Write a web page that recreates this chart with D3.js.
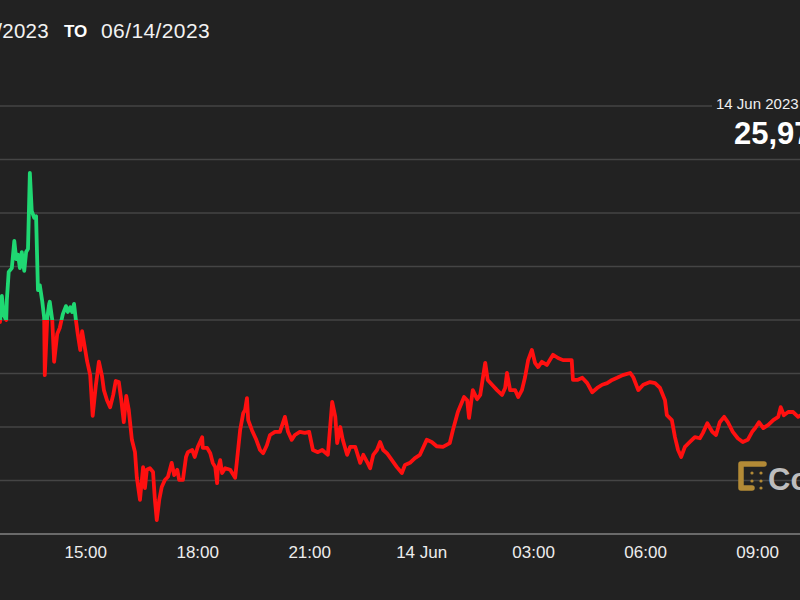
<!DOCTYPE html>
<html>
<head>
<meta charset="utf-8">
<script src="https://cdn.jsdelivr.net/npm/d3@7/dist/d3.min.js"></script>
<style>
  html, body { margin: 0; padding: 0; background: #222222; overflow: hidden; }
  svg { display: block; }
  text { font-family: "Liberation Sans", Arial, Helvetica, sans-serif; }
</style>
</head>
<body>
<svg id="chart" width="800" height="600"></svg>
<script>
// ---- data (BTC price, 13–14 Jun 2023) ----
const times = [
"06-13 12:43","06-13 12:46","06-13 12:49","06-13 12:53","06-13 12:54","06-13 12:57","06-13 13:02","06-13 13:06","06-13 13:09","06-13 13:12",
"06-13 13:15","06-13 13:18","06-13 13:22","06-13 13:25","06-13 13:28","06-13 13:31","06-13 13:34","06-13 13:38","06-13 13:41","06-13 13:44",
"06-13 13:47","06-13 13:51","06-13 13:54","06-13 13:55","06-13 13:59","06-13 14:02","06-13 14:03","06-13 14:07","06-13 14:10","06-13 14:15",
"06-13 14:19","06-13 14:24","06-13 14:29","06-13 14:32","06-13 14:36","06-13 14:39","06-13 14:42","06-13 14:45","06-13 14:48","06-13 14:52",
"06-13 14:55","06-13 15:00","06-13 15:03","06-13 15:08","06-13 15:12","06-13 15:17","06-13 15:22","06-13 15:27","06-13 15:30","06-13 15:35",
"06-13 15:40","06-13 15:45","06-13 15:49","06-13 15:54","06-13 15:58","06-13 16:02","06-13 16:06","06-13 16:10","06-13 16:15","06-13 16:20",
"06-13 16:23","06-13 16:28","06-13 16:33","06-13 16:36","06-13 16:39","06-13 16:44","06-13 16:49","06-13 16:52","06-13 16:55","06-13 16:59",
"06-13 17:03","06-13 17:08","06-13 17:13","06-13 17:19","06-13 17:23","06-13 17:28","06-13 17:31","06-13 17:37","06-13 17:42","06-13 17:45",
"06-13 17:52","06-13 17:56","06-13 18:01","06-13 18:08","06-13 18:09","06-13 18:16","06-13 18:21","06-13 18:25","06-13 18:29","06-13 18:32",
"06-13 18:33","06-13 18:37","06-13 18:40","06-13 18:45","06-13 18:53","06-13 19:01","06-13 19:04","06-13 19:09","06-13 19:14","06-13 19:17",
"06-13 19:20","06-13 19:22","06-13 19:28","06-13 19:35","06-13 19:41","06-13 19:46","06-13 19:52","06-13 19:57","06-13 20:05","06-13 20:13",
"06-13 20:21","06-13 20:26","06-13 20:32","06-13 20:37","06-13 20:45","06-13 20:53","06-13 21:00","06-13 21:06","06-13 21:14","06-13 21:21",
"06-13 21:30","06-13 21:37","06-13 21:42","06-13 21:45","06-13 21:50","06-13 21:54","06-13 22:01","06-13 22:06","06-13 22:14","06-13 22:22",
"06-13 22:27","06-13 22:33","06-13 22:38","06-13 22:43","06-13 22:49","06-13 22:54","06-13 22:59","06-13 23:05","06-13 23:15","06-13 23:21",
"06-13 23:29","06-13 23:34","06-13 23:42","06-13 23:50","06-13 23:58","06-14 00:09","06-14 00:17","06-14 00:25","06-14 00:35","06-14 00:46",
"06-14 00:51","06-14 00:59","06-14 01:09","06-14 01:14","06-14 01:17","06-14 01:23","06-14 01:30","06-14 01:35","06-14 01:43","06-14 01:47",
"06-14 01:54","06-14 02:02","06-14 02:10","06-14 02:15","06-14 02:18","06-14 02:23","06-14 02:31","06-14 02:36","06-14 02:42","06-14 02:47",
"06-14 02:52","06-14 02:58","06-14 03:03","06-14 03:08","06-14 03:14","06-14 03:22","06-14 03:32","06-14 03:40","06-14 03:48","06-14 03:56",
"06-14 04:02","06-14 04:04","06-14 04:11","06-14 04:19","06-14 04:27","06-14 04:35","06-14 04:43","06-14 04:51","06-14 04:59","06-14 05:07",
"06-14 05:15","06-14 05:24","06-14 05:36","06-14 05:41","06-14 05:49","06-14 05:57","06-14 06:08","06-14 06:16","06-14 06:24","06-14 06:32",
"06-14 06:35","06-14 06:43","06-14 06:48","06-14 06:53","06-14 06:58","06-14 07:04","06-14 07:12","06-14 07:20","06-14 07:28","06-14 07:33",
"06-14 07:40","06-14 07:48","06-14 07:54","06-14 08:00","06-14 08:07","06-14 08:13","06-14 08:21","06-14 08:29","06-14 08:37","06-14 08:45",
"06-14 08:52","06-14 08:57","06-14 09:03","06-14 09:10","06-14 09:18","06-14 09:26","06-14 09:34","06-14 09:38","06-14 09:43","06-14 09:50",
"06-14 09:58","06-14 10:06","06-14 10:09"
];
const prices = [
26096,26145,26109,26100,26137,26190,26197,26248,26214,26222,
26197,26227,26192,26227,26233,26375,26304,26291,26294,26156,
26165,26134,26104,25997,26104,26130,26134,26100,26022,26074,
26085,26111,26126,26115,26124,26115,26130,26100,26074,26044,
26079,26044,26023,25997,25921,25977,26022,25995,25969,25950,
25937,25960,25986,25984,25950,25909,25958,25932,25876,25853,
25805,25764,25825,25786,25820,25823,25816,25764,25726,25764,
25788,25801,25807,25833,25810,25820,25801,25801,25844,25853,
25857,25844,25863,25881,25861,25861,25851,25833,25825,25795,
25820,25838,25814,25823,25820,25805,25838,25894,25926,25932,
25954,25913,25894,25876,25857,25851,25866,25885,25891,25891,
25919,25891,25876,25885,25891,25889,25891,25857,25853,25857,
25848,25947,25919,25870,25900,25876,25848,25863,25863,25833,
25848,25835,25823,25848,25857,25872,25857,25851,25835,25825,
25814,25829,25833,25842,25848,25876,25872,25864,25863,25870,
25894,25928,25956,25950,25917,25969,25952,25960,26020,25988,
25979,25969,25960,25973,26001,25969,25969,25956,25969,25993,
26025,26044,26020,26012,26022,26016,26035,26029,26025,26025,
26025,25988,25988,25992,25982,25965,25973,25979,25982,25988,
25992,25997,26001,25993,25969,25979,25984,25982,25973,25950,
25922,25913,25881,25857,25844,25863,25872,25881,25879,25889,
25907,25891,25885,25909,25919,25909,25891,25879,25872,25876,
25891,25898,25909,25898,25904,25913,25919,25937,25922,25928,
25928,25919,25921
];
const openPrice = 26100;
const gridValues = [25700, 25800, 25900, 26000, 26100, 26200, 26300, 26400, 26500];
const tickTimes = ["06-13 15:00","06-13 18:00","06-13 21:00","06-14 00:00","06-14 03:00","06-14 06:00","06-14 09:00"];
const tickLabels = ["15:00","18:00","21:00","14 Jun","03:00","06:00","09:00"];
const domainTimes = ["06-13 12:43","06-14 10:09"];
const titleFrom = "06/13/2023";
const titleTo = "06/14/2023";
const lastDateLabel = "14 Jun 2023";
const lastPriceLabel = "25,976.18";

// ---- drawing ----
const parse = d3.timeParse("%m-%d %H:%M");
const data = times.map((t, i) => ({ t: parse(t), p: prices[i] }));

const svg = d3.select("#chart");
svg.append("rect").attr("width", 800).attr("height", 600).attr("fill", "#222222");

const x = d3.scaleTime().domain(domainTimes.map(parse)).range([0, 800]);
const y = d3.scaleLinear().domain([25700, 26500]).range([534, 106]);

// grid lines
svg.append("g").selectAll("line").data(gridValues).join("line")
  .attr("x1", 0)
  .attr("x2", d => d === 26500 ? 712 : 800)
  .attr("y1", d => y(d)).attr("y2", d => y(d))
  .attr("stroke", d => d === 25700 ? "#6a6a6a" : "#454545")
  .attr("stroke-width", d => d === 25700 ? 2 : 1.5);

// x axis labels
const xAxis = d3.axisBottom(x)
  .tickValues(tickTimes.map(parse))
  .tickFormat((d, i) => tickLabels[i])
  .tickSize(0).tickPadding(0);
const gx = svg.append("g").attr("transform", "translate(0,546)").call(xAxis);
gx.select(".domain").remove();
gx.selectAll("text")
  .attr("fill", "#ededed")
  .attr("font-size", 17)
  .attr("dy", "0.71em")
  .style("font-family", "'Liberation Sans', Arial, sans-serif");

// clip paths for above/below open
const defs = svg.append("defs");
defs.append("clipPath").attr("id", "above")
  .append("rect").attr("x", 0).attr("y", 0).attr("width", 800).attr("height", y(openPrice));
defs.append("clipPath").attr("id", "below")
  .append("rect").attr("x", 0).attr("y", y(openPrice)).attr("width", 800).attr("height", 600 - y(openPrice));

const line = d3.line().x(d => x(d.t)).y(d => y(d.p)).curve(d3.curveLinear);

svg.append("path").datum(data)
  .attr("d", line).attr("fill", "none")
  .attr("stroke", "#1fd872").attr("stroke-width", 3.8)
  .attr("stroke-linejoin", "round").attr("stroke-linecap", "round")
  .attr("clip-path", "url(#above)");
svg.append("path").datum(data)
  .attr("d", line).attr("fill", "none")
  .attr("stroke", "#ff1010").attr("stroke-width", 3.8)
  .attr("stroke-linejoin", "round").attr("stroke-linecap", "round")
  .attr("clip-path", "url(#below)");

// title
svg.append("text").attr("x", 49).attr("y", 38).attr("text-anchor", "end")
  .attr("fill", "#f2f2f2").attr("font-size", 20.5).attr("letter-spacing", 0.3).text(titleFrom);
svg.append("text").attr("x", 64).attr("y", 37)
  .attr("fill", "#ffffff").attr("font-size", 17).attr("font-weight", "bold").text("TO");
svg.append("text").attr("x", 101).attr("y", 38)
  .attr("fill", "#f2f2f2").attr("font-size", 21).attr("letter-spacing", 0.4).text(titleTo);

// last value label
svg.append("text").attr("x", 716).attr("y", 109)
  .attr("fill", "#f0f0f0").attr("font-size", 15).text(lastDateLabel);
svg.append("text").attr("x", 734).attr("y", 144)
  .attr("fill", "#ffffff").attr("font-size", 31).attr("font-weight", "bold").text(lastPriceLabel);

// watermark logo
const logo = svg.append("g");
logo.append("path")
  .attr("d", "M764,464 L741,464 L741,488 L752,488")
  .attr("fill", "none").attr("stroke", "#b38a36").attr("stroke-width", 5.5)
  .attr("stroke-linecap", "round").attr("stroke-linejoin", "round");
[[752,473],[761,473],[752,481],[761,481],[761,488]].forEach(([cx, cy]) => {
  logo.append("circle").attr("cx", cx).attr("cy", cy).attr("r", 1.6).attr("fill", "#b38a36");
});
logo.append("text").attr("x", 768).attr("y", 490)
  .attr("fill", "#bdbdbd").attr("font-size", 31).attr("font-weight", "bold").text("CoinDesk");
</script>
</body>
</html>
